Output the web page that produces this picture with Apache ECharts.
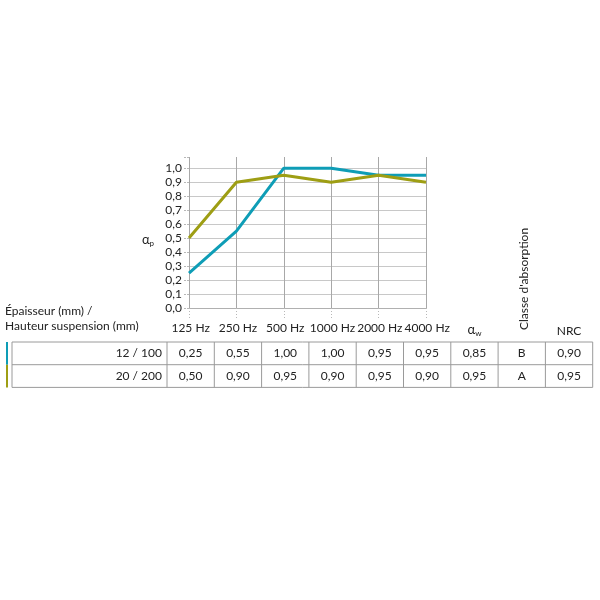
<!DOCTYPE html>
<html>
<head>
<meta charset="utf-8">
<script src="https://cdn.jsdelivr.net/npm/echarts@6/dist/echarts.min.js"></script>
<style>html,body{margin:0;padding:0;background:#fff}#c{width:600px;height:600px}</style>
</head>
<body>
<div id="c"></div>
<script>
var categories = ['125 Hz', '250 Hz', '500 Hz', '1000 Hz', '2000 Hz', '4000 Hz'];
var series12 = [0.25, 0.55, 1.00, 1.00, 0.95, 0.95];
var series20 = [0.50, 0.90, 0.95, 0.90, 0.95, 0.90];
var rowLabels = ['12 / 100', '20 / 200'];
var alphaW = [0.85, 0.95];
var classes = ['B', 'A'];
var nrc = [0.90, 0.95];
var yTicks = [0, 0.1, 0.2, 0.3, 0.4, 0.5, 0.6, 0.7, 0.8, 0.9, 1.0];

var FONT = 'Lato';
var BLUE = '#0e9db6';
var OLIVE = '#9e9e14';
function fmt(v) { return v.toFixed(2).replace('.', ','); }

var chart = echarts.init(document.getElementById('c'), null, { renderer: 'canvas' });

// table layout
var tLeft = 12, c0 = 167, cw = 47.3, r0 = 342, rh = 22.7;
var edges = [tLeft];
for (var i = 0; i <= 9; i++) edges.push(c0 + i * cw);
var rows = [
  { label: rowLabels[0], vals: series12, aw: alphaW[0], cl: classes[0], nrc: nrc[0], color: BLUE },
  { label: rowLabels[1], vals: series20, aw: alphaW[1], cl: classes[1], nrc: nrc[1], color: OLIVE }
];
var g = [];
var txt = function (x, y, s, align, extra) {
  var o = { type: 'text', x: x, y: y, style: { text: s, fill: '#222', font: '12px ' + FONT, align: align || 'center', verticalAlign: 'middle' } };
  if (extra) for (var k in extra) o[k] = extra[k];
  return o;
};
// header
g.push(txt(5, 311, 'Épaisseur (mm) /', 'left'));
g.push(txt(5, 326, 'Hauteur suspension (mm)', 'left'));
categories.forEach(function (c, i) { g.push(txt(c0 + cw * (i + 0.5), 328, c)); });
g.push({ type: 'text', x: c0 + cw * 6.5, y: 330, style: { text: '{a|α}{s|w}', align: 'center', verticalAlign: 'middle', rich: { a: { font: '13px ' + FONT, fill: '#222' }, s: { font: '8px ' + FONT, fill: '#222', padding: [6, 0, 0, 0] } } } });
g.push(txt(c0 + cw * 7.5 + 2, 279, "Classe d'absorption", 'center', { rotation: Math.PI / 2 }));
g.push(txt(c0 + cw * 8.5, 331, 'NRC'));
// y axis name
g.push({ type: 'text', x: 148, y: 240, style: { text: '{a|α}{s|p}', align: 'center', verticalAlign: 'middle', rich: { a: { font: '13px ' + FONT, fill: '#222' }, s: { font: '8px ' + FONT, fill: '#222', padding: [6, 0, 0, 0] } } } });
// table lines
var lineStyle = { stroke: '#9a9a9a', lineWidth: 1 };
for (var r = 0; r <= 2; r++) {
  g.push({ type: 'line', shape: { x1: tLeft, y1: r0 + r * rh, x2: edges[edges.length - 1], y2: r0 + r * rh }, style: lineStyle });
}
edges.forEach(function (x) {
  g.push({ type: 'line', shape: { x1: x, y1: r0, x2: x, y2: r0 + 2 * rh }, style: lineStyle });
});
rows.forEach(function (row, ri) {
  var y = r0 + rh * (ri + 0.5);
  g.push({ type: 'rect', shape: { x: 6, y: r0 + ri * rh, width: 2, height: rh }, style: { fill: row.color } });
  g.push(txt(c0 - 5, y, row.label, 'right'));
  row.vals.forEach(function (v, i) { g.push(txt(c0 + cw * (i + 0.5), y, fmt(v))); });
  g.push(txt(c0 + cw * 6.5, y, fmt(row.aw)));
  g.push(txt(c0 + cw * 7.5, y, row.cl));
  g.push(txt(c0 + cw * 8.5, y, fmt(row.nrc)));
});

var hColors = yTicks.map(function () { return '#c8c8c8'; }).concat(['rgba(0,0,0,0)']);

chart.setOption({
  animation: false,
  textStyle: { fontFamily: FONT },
  grid: { left: 189, right: 174, top: 157, bottom: 292, containLabel: false },
  xAxis: {
    type: 'category', data: categories, boundaryGap: false,
    axisLine: { show: true, lineStyle: { color: '#b0b0b0', width: 1 } },
    axisTick: { show: true, interval: 0, length: 10, lineStyle: { color: '#b8b8b8', type: [1, 2] } },
    axisLabel: { show: false, interval: 0 },
    splitLine: { show: true, interval: 0, lineStyle: { color: '#a8a8a8', width: 1 } }
  },
  yAxis: {
    type: 'value', min: 0, max: 1.08, interval: 0.1,
    axisLine: { show: false },
    axisTick: { show: true, length: 5, lineStyle: { color: '#b8b8b8', type: [2, 1] } },
    axisLabel: {
      margin: 7, color: '#222', fontSize: 12, fontFamily: FONT,
      formatter: function (v) { return v > 1.001 ? '' : v.toFixed(1).replace('.', ','); }
    },
    splitLine: { show: true, lineStyle: { color: hColors, width: 1 } }
  },
  series: [
    { name: rowLabels[0], type: 'line', data: series12, showSymbol: false, lineStyle: { color: BLUE, width: 3 }, itemStyle: { color: BLUE }, z: 3 },
    { name: rowLabels[1], type: 'line', data: series20, showSymbol: false, lineStyle: { color: OLIVE, width: 3 }, itemStyle: { color: OLIVE }, z: 4 }
  ],
  graphic: g
});
</script>
</body>
</html>
